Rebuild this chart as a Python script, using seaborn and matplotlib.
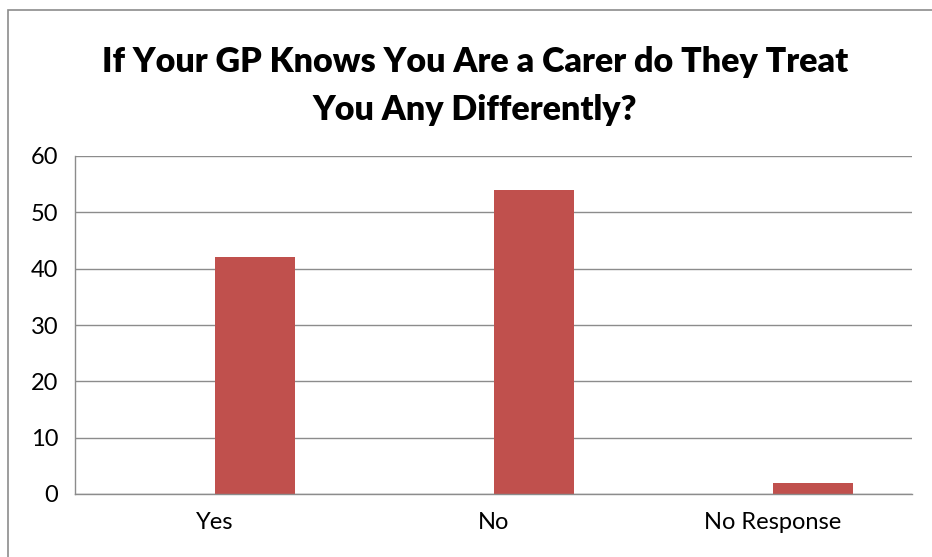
import numpy as np
import pandas as pd
import matplotlib.pyplot as plt
import seaborn as sns
from matplotlib.patches import Rectangle

sns.set_theme(style="white")
plt.rcParams["font.family"] = ["Lato", "DejaVu Sans"]

# Survey responses (the first series is empty, which is why the bars sit right of centre)
categories = ["Yes", "No", "No Response"]
blank_series = [np.nan, np.nan, np.nan]
answers = [42, 54, 2]
y_ticks = [0, 10, 20, 30, 40, 50, 60]

df = pd.DataFrame({
    "category": categories * 2,
    "series": ["blank"] * 3 + ["answers"] * 3,
    "value": blank_series + answers,
})

fig = plt.figure(figsize=(9.32, 5.57), dpi=100)
ax = fig.add_axes([75 / 932, 63 / 557, 837 / 932, 338 / 557])

sns.barplot(
    data=df,
    x="category",
    y="value",
    hue="series",
    hue_order=["blank", "answers"],
    palette={"blank": "#4F81BD", "answers": "#C0504D"},
    width=0.574,
    saturation=1,
    linewidth=0,
    legend=False,
    ax=ax,
)

ax.set_ylim(0, 60)
ax.set_yticks(y_ticks)
ax.set_xlim(-0.5, 2.5)
ax.yaxis.grid(True, color="#8C8C8C", linewidth=1)
ax.set_axisbelow(True)
ax.set_xlabel("")
ax.set_ylabel("")
ax.tick_params(axis="both", length=0, labelsize=17, colors="black")
ax.tick_params(axis="x", pad=13)
ax.tick_params(axis="y", pad=12)
for side in ["top", "right"]:
    ax.spines[side].set_visible(False)
for side in ["left", "bottom"]:
    ax.spines[side].set_color("#8C8C8C")
    ax.spines[side].set_linewidth(1)

fig.text(475 / 932, 1 - 86 / 557,
         "If Your GP Knows You Are a Carer do They Treat\nYou Any Differently?",
         ha="center", va="center", fontsize=24.5, fontweight="heavy",
         color="black", linespacing=1.6)

# outer chart frame (only top and left edges are visible in the crop)
fig.add_artist(Rectangle((8 / 932, -0.1), 1.0, 1 - 10 / 557 + 0.1,
                         transform=fig.transFigure, fill=False,
                         edgecolor="#8C8C8C", linewidth=1.2))

fig.savefig("out.png", dpi=100)
